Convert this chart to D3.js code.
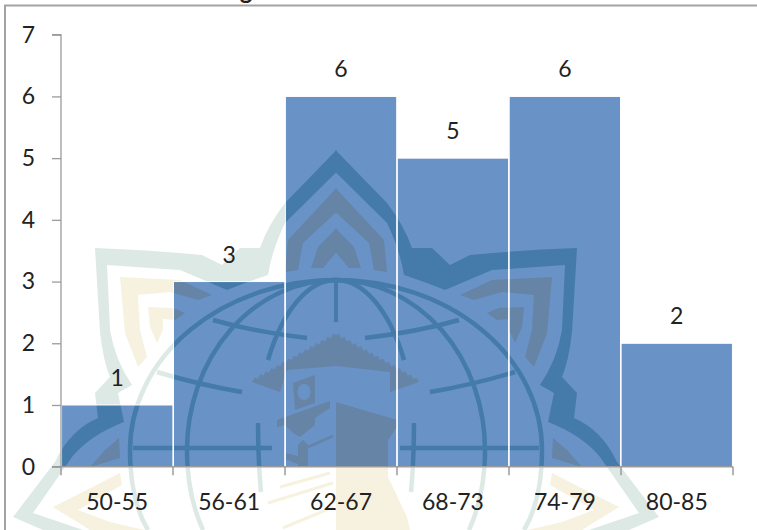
<!DOCTYPE html>
<html>
<head>
<meta charset="utf-8">
<script src="https://cdn.jsdelivr.net/npm/d3@7"></script>
<style>
  html, body { margin: 0; padding: 0; background: #fff; }
  svg { display: block; }
  text { font-family: Lato, "Open Sans", sans-serif; fill: #222; }
</style>
</head>
<body>
<svg id="chart" width="757" height="530"></svg>
<script>
// Frequency distribution by score interval
const categories = ["50-55", "56-61", "62-67", "68-73", "74-79", "80-85"];
const frequencies = [1, 3, 6, 5, 6, 2];
const yTicks = [0, 1, 2, 3, 4, 5, 6, 7];

const width = 757, height = 530;
const plot = { left: 61, right: 733, top: 34.7, bottom: 466.7 };
const labelSize = "23px";

const svg = d3.select("#chart");
const x = d3.scaleBand().domain(categories).range([plot.left, plot.right]).padding(0.005);
const y = d3.scaleLinear().domain([0, 7]).range([plot.bottom, plot.top]);

// Institutional seal printed across the page. Symmetric parts are drawn once
// and repeated through a mirror about the vertical axis at x = 336.
const outerBand = "M336.5,150 L285,203 Q268,225 260,248 L240,248 L222,265 L202,255 Q150,250 95,248 " +
  "L100,332 Q103,360 110,377 L95,393 L98,418 Q70,430 55,462 L13,517 L43,530 L83,530 L33,513 " +
  "L72,457 Q90,435 124,422 L118,393 L132,385 Q115,360 110,330 L107,265 L180,270 L227,290 L245,283 " +
  "L268,275 Q272,250 285,223 L336.5,172 Z";
const creamLobes = [
  "M120,277 L180,280 L212,295 L198,300 L170,292 L138,295 L140,330 L147,357 L138,367 L125,333 Z",
  "M148,307 L173,308 L185,313 L175,320 L163,319 L163,330 L157,343 L150,327 Z",
  "M119,438 L120,458 L90,467 L105,450 Z",
  "M120,473 L122,485 L78,510 L110,522 L145,530 L90,530 L53,507 Z",
  "M336.5,188 L288,240 L285,272 L298,270 L303,243 L336.5,212 Z",
  "M336.5,228 L318,247 L311,268 L323,268 L336.5,252 Z"
];
const globeStrokes = [
  "M336,280 A206,170 0 0 0 130,450 Q130,500 148,530",
  "M336,280 A149,170 0 0 0 187,450 Q187,495 203,530",
  "M336.5,280 A80,170 0 0 0 268,360",
  "M213,320 Q255,332 307,338",
  "M157,372 Q200,385 242,392",
  "M133,448 L272,448",
  "M258,423 Q258,460 261,492"
];
const kaabaShapes = [
  "M252,382 L280,392 L287,370 L336,366 L390,372 L390,392 L419,382 L336,335 Z",
  "M277,420 L330,401 L330,408 L315,418 L315,425 L300,437 L293,433 L285,425 L277,427 Z",
  "M336,402 L397,420 L397,427 L388,440 L388,477 L407,517 L410,530 L336,530 Z",
  "M298,466 L298,445 L303,440 L308,445 L308,466 Z",
  "M285,453 L298,456 L298,464 L285,459 Z"
];
const kaabaWindow = "M293,383 L315,375 L315,403 L295,410 Z M304,384 a6.5,8 0 1 0 0.01,0 Z";
const kaabaSteps = ["M308,447 L333,436", "M280,487 L330,473", "M268,503 L333,483", "M283,528 L333,507"];

function drawSeal(parent, colors) {
  const mirrored = (draw) => {
    draw(parent.append("g"));
    draw(parent.append("g").attr("transform", "translate(672,0) scale(-1,1)"));
  };
  mirrored(g => {
    g.append("path").attr("d", outerBand).attr("fill", colors.green);
    g.selectAll("path.lobe").data(creamLobes).join("path").attr("class", "lobe")
      .attr("d", d => d).attr("fill", colors.cream);
    g.selectAll("path.globe").data(globeStrokes).join("path").attr("class", "globe")
      .attr("d", d => d).attr("fill", "none").attr("stroke", colors.green).attr("stroke-width", 4.5);
  });
  parent.append("line").attr("x1", 336).attr("x2", 336).attr("y1", 280).attr("y2", 322)
    .attr("stroke", colors.green).attr("stroke-width", 4);

  parent.selectAll("path.kaaba").data(kaabaShapes).join("path").attr("class", "kaaba")
    .attr("d", d => d).attr("fill", colors.cream);
  parent.append("path").attr("d", kaabaWindow).attr("fill", colors.cream).attr("fill-rule", "evenodd");
  parent.selectAll("path.step").data(kaabaSteps).join("path").attr("class", "step")
    .attr("d", d => d).attr("fill", "none").attr("stroke", colors.cream).attr("stroke-width", 3);

  // Serrated eaves along both roof slopes
  [[252, 382], [419, 382]].forEach(([ex, ey]) => {
    const teeth = 15;
    const pts = [];
    d3.range(teeth + 1).forEach(i => {
      const t = i / teeth;
      const px = 336 + (ex - 336) * t, py = 335 + (ey - 335) * t;
      pts.push([px, py]);
      if (i < teeth) {
        const mid = (i + 0.5) / teeth;
        pts.push([336 + (ex - 336) * mid, 335 + (ey - 335) * mid - 3]);
      }
    });
    parent.append("path").attr("d", d3.line()(pts) + "Z").attr("fill", colors.cream);
  });
}

// Page frame: left and top rules only
svg.append("path")
  .attr("d", `M5,${height} L5,5.5 L${width},5.5`)
  .attr("fill", "none").attr("stroke", "#a3a3a3").attr("stroke-width", 2);

// Part of the heading, running off the top of the page
svg.append("text").attr("x", 246).attr("y", -1.5).attr("text-anchor", "middle")
  .style("font-size", "24px").style("font-weight", 700).text("g");

drawSeal(svg.append("g"), { green: "#dde9e4", cream: "#f7f2e0" });

const barX = (d, i) => x(categories[i]);
svg.append("g").selectAll("rect")
  .data(frequencies).join("rect")
  .attr("x", barX)
  .attr("y", d => y(d))
  .attr("width", x.bandwidth())
  .attr("height", d => y(0) - y(d))
  .attr("fill", "#6992c7");

// The seal shows through the bars in deeper tones
svg.append("clipPath").attr("id", "bar-clip")
  .selectAll("rect").data(frequencies).join("rect")
  .attr("x", barX)
  .attr("y", d => y(d))
  .attr("width", x.bandwidth())
  .attr("height", d => y(0) - y(d));
drawSeal(svg.append("g").attr("clip-path", "url(#bar-clip)"), { green: "#447bab", cream: "#6684a6" });

// White hairline around every bar
svg.append("g").selectAll("rect")
  .data(frequencies).join("rect")
  .attr("x", barX)
  .attr("y", d => y(d))
  .attr("width", x.bandwidth())
  .attr("height", d => y(0) - y(d))
  .attr("fill", "none")
  .attr("stroke", "#fff")
  .attr("stroke-width", 1);

// Axes
const axisColor = "#9b9b9b";
const yAxis = svg.append("g").attr("transform", `translate(${plot.left},0)`)
  .call(d3.axisLeft(y).tickValues(yTicks).tickSize(9).tickPadding(17).tickFormat(d3.format("d")));
const xEdges = d3.scaleLinear().domain([0, categories.length]).range([plot.left, plot.right]);
const xAxis = svg.append("g").attr("transform", `translate(0,${plot.bottom})`);
xAxis.append("line").attr("x1", plot.left).attr("x2", plot.right).attr("stroke", axisColor).attr("stroke-width", 1.5);
xAxis.selectAll("line.tick-mark").data(d3.range(categories.length + 1)).join("line")
  .attr("class", "tick-mark")
  .attr("x1", d => xEdges(d)).attr("x2", d => xEdges(d))
  .attr("y1", 0).attr("y2", 8.5)
  .attr("stroke", axisColor).attr("stroke-width", 1.5);
yAxis.selectAll("path, line").attr("stroke", axisColor).attr("stroke-width", 1.3);
yAxis.select(".domain").attr("d", `M-9,${plot.top} H0 V${plot.bottom} H-9`);
yAxis.selectAll("text").style("font-size", labelSize).style("font-family", "Lato").attr("fill", "#222");

xAxis.selectAll("text.cat").data(categories).join("text")
  .attr("class", "cat")
  .attr("x", d => x(d) + x.bandwidth() / 2)
  .attr("y", 43.5)
  .attr("text-anchor", "middle")
  .style("font-size", labelSize)
  .text(d => d);

// Value labels above each bar
svg.append("g").selectAll("text").data(frequencies).join("text")
  .attr("x", (d, i) => x(categories[i]) + x.bandwidth() / 2)
  .attr("y", d => y(d) - 19)
  .attr("text-anchor", "middle")
  .style("font-size", labelSize)
  .text(d => d);
</script>
</body>
</html>
